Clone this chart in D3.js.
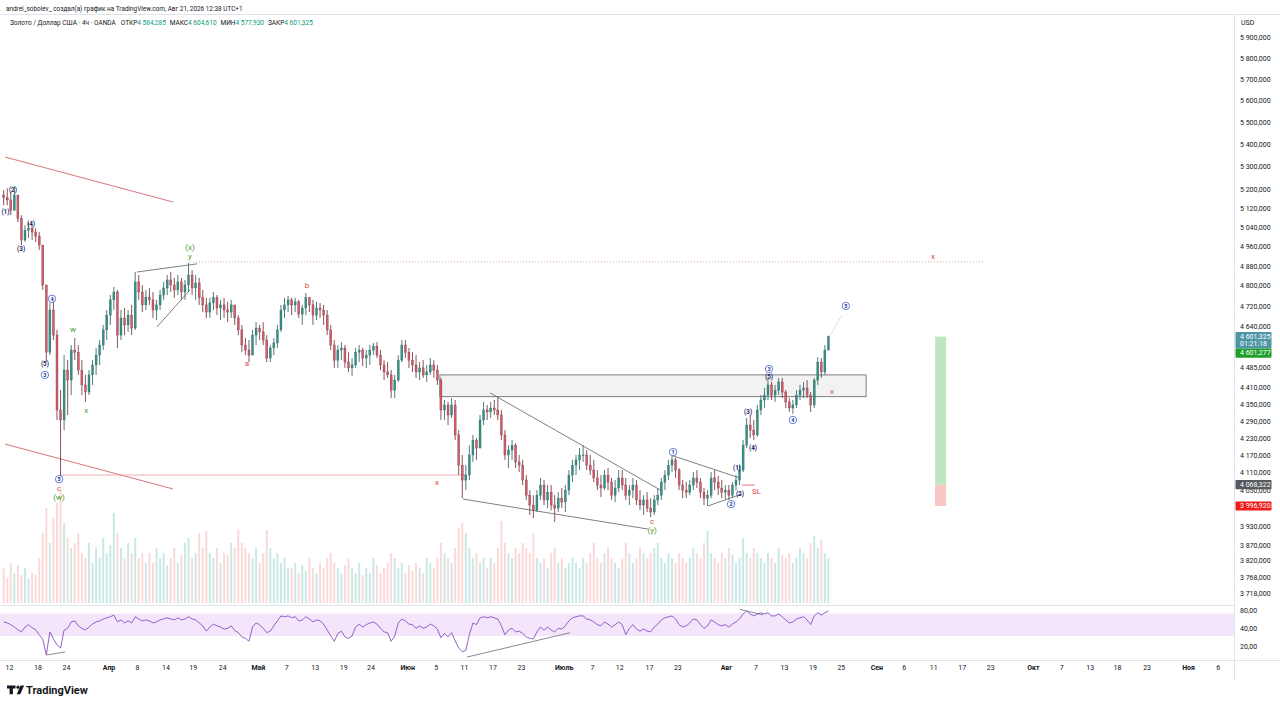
<!DOCTYPE html>
<html><head><meta charset="utf-8">
<script src="https://cdn.jsdelivr.net/npm/d3@7"></script>
<style>body{margin:0;background:#fff}svg{display:block;font-family:Roboto,"Noto Sans",sans-serif}</style>
</head><body><svg id="c" width="1280" height="706"></svg>
<script>
// ---------------- DATA ----------------
const firstOpen = 5176;
const closes = [
5164,5155,5110,5176,5077,4986,5027,5035,5019,5002,
4965,4803,4542,4704,4607,4329,4293,4475,4438,4550,
4542,4475,4420,4394,4457,4494,4531,4569,4627,4684,
4744,4775,4607,4673,4646,4684,4634,4815,4775,4724,
4755,4744,4704,4724,4763,4791,4823,4803,4783,4815,
4775,4803,4843,4791,4811,4752,4724,4696,4732,4752,
4712,4724,4704,4696,4724,4673,4627,4569,4550,4531,
4607,4634,4619,4588,4520,4558,4577,4627,4704,4724,
4744,4724,4736,4688,4712,4752,4724,4684,4712,4704,
4684,4627,4569,4512,4550,4558,4505,4483,4494,4542,
4550,4520,4531,4550,4565,4531,4494,4468,4457,4401,
4438,4512,4569,4542,4512,4494,4468,4483,4457,4468,
4494,4475,4438,4329,4347,4311,4347,4240,4135,4084,
4101,4170,4222,4194,4293,4329,4322,4336,4329,4311,
4240,4170,4187,4204,4146,4135,4084,4033,4000,3983,
4033,4067,4017,4043,4000,3990,4023,4010,4050,4101,
4135,4153,4170,4170,4135,4118,4091,4067,4057,4101,
4077,4033,4057,4091,4067,4033,4050,4067,4017,4000,
4017,3990,3977,4017,4033,4077,4101,4135,4153,4118,
4067,4050,4043,4067,4091,4077,4043,4023,4033,4091,
4077,4057,4043,4050,4033,4067,4084,4118,4204,4275,
4257,4240,4329,4365,4383,4420,4383,4401,4431,4394,
4358,4336,4347,4383,4401,4409,4383,4347,4438,4505,
4468,4550,4601];
const highs = [
5197,5205,5189,5214,5176,5090,5048,5060,5044,5035,
5019,4965,4803,4732,4744,4627,4401,4531,4512,4569,
4596,4569,4512,4457,4475,4512,4558,4588,4646,4704,
4763,4795,4783,4704,4712,4704,4724,4855,4843,4803,
4783,4791,4775,4744,4783,4815,4843,4855,4831,4843,
4831,4823,4892,4863,4843,4831,4783,4752,4752,4775,
4763,4744,4752,4736,4744,4724,4684,4646,4596,4588,
4627,4657,4646,4657,4607,4569,4596,4646,4724,4752,
4759,4752,4752,4744,4724,4771,4755,4744,4736,4732,
4724,4704,4646,4588,4569,4580,4569,4542,4520,4558,
4569,4558,4550,4569,4577,4580,4550,4512,4505,4475,
4457,4531,4588,4588,4558,4542,4531,4505,4512,4494,
4520,4512,4494,4446,4365,4358,4372,4365,4257,4170,
4135,4204,4240,4229,4311,4358,4347,4358,4365,4376,
4329,4257,4204,4222,4211,4170,4153,4101,4050,4033,
4050,4091,4084,4067,4067,4033,4043,4057,4067,4118,
4153,4170,4194,4204,4187,4170,4153,4118,4101,4118,
4125,4091,4084,4118,4118,4091,4067,4091,4084,4050,
4033,4043,4023,4033,4057,4091,4118,4153,4167,4160,
4125,4084,4077,4084,4111,4118,4091,4057,4050,4111,
4118,4098,4084,4067,4067,4077,4101,4135,4222,4300,
4311,4293,4347,4383,4409,4446,4431,4420,4446,4446,
4401,4372,4365,4401,4420,4431,4438,4394,4446,4523,
4520,4569,4605];
const lows = [
5132,5132,5090,5110,5060,4965,4978,4994,4986,4978,
4945,4783,4505,4531,4588,4293,4098,4257,4311,4383,
4512,4457,4383,4358,4383,4420,4457,4494,4550,4588,
4646,4704,4558,4588,4607,4619,4607,4627,4744,4696,
4704,4724,4673,4665,4704,4744,4763,4775,4752,4763,
4744,4744,4775,4763,4744,4724,4696,4673,4673,4704,
4684,4665,4673,4657,4673,4646,4607,4542,4531,4505,
4531,4569,4588,4569,4505,4505,4531,4558,4619,4673,
4696,4684,4696,4673,4646,4684,4696,4646,4665,4673,
4646,4607,4550,4483,4483,4512,4483,4468,4453,4483,
4505,4490,4483,4494,4531,4520,4475,4438,4446,4372,
4372,4431,4505,4520,4483,4468,4446,4438,4446,4431,
4457,4446,4420,4293,4293,4275,4300,4222,4101,4023,
4050,4084,4146,4153,4222,4275,4293,4300,4311,4293,
4222,4153,4125,4153,4125,4111,4067,4017,3967,3957,
3977,4017,4000,3990,3983,3944,3977,3990,3977,4033,
4077,4101,4118,4146,4118,4101,4077,4050,4027,4050,
4050,4017,4010,4043,4050,4017,4000,4023,4000,3983,
3967,3977,3960,3967,4000,4017,4050,4084,4111,4091,
4050,4023,4023,4033,4050,4057,4023,4000,3997,4023,
4050,4033,4023,4017,4017,4023,4050,4067,4111,4194,
4229,4222,4233,4311,4336,4365,4365,4358,4383,4372,
4336,4322,4315,4336,4365,4372,4372,4322,4336,4420,
4446,4457,4577];
const volumes = [
35,25,40,30,38,28,35,25,30,28,45,
70,95,60,85,100,113,80,65,
55,60,70,50,45,60,40,55,45,65,50,58,
90,70,55,45,60,50,65,45,50,40,
50,40,55,45,50,38,45,55,40,48,60,65,45,50,70,55,72,
50,45,55,40,50,48,60,55,73,60,55,50,45,55,40,50,73,55,45,50,40,45,35,
35,40,30,38,32,45,35,30,40,35,45,50,40,35,30,38,45,35,30,40,28,35,30,45,38,30,35,40,50,45,
35,40,30,38,32,40,35,30,45,40,35,45,60,50,45,40,55,75,80,70,
55,45,50,40,45,35,45,40,55,82,60,50,45,55,50,60,55,50,70,45,
40,45,35,50,55,40,45,35,40,45,40,35,45,40,50,60,45,40,50,55,45,40,35,45,60,50,40,45,55,50,
45,50,55,60,45,40,50,45,40,50,45,40,45,55,50,45,60,72,50,45,40,50,45,55,48,40,45,65,50,45,
55,50,45,40,50,45,40,55,48,45,50,40,45,55,50,45,60,67,55,63,50,45];
const rsiValues = [
51,49,46,42,38,35,42,46,41,38,
31.5,26.7,14.6,35,27,21.5,19,37.5,40,51,
53,44,40,37.5,42,47,51,53,57,59.5,
62,66,51,55,49,53,49,62,57,53,
55,53,49,51,55,57,59.5,57,55,59.5,
55,57,62,57,55,49,44,36,42,47,
44,42,39,40,44,37,34,29,27.5,24.5,
42,49,46,40,34,36,44,53,64,62,
64,59.5,62,53,55,62,57,51,55,53,
47,37.5,30,24.5,33,36,29,27.5,30,42,
47,42,46,49,51,47,40,35,34,24.5,
30,49,57,53,47,46,40,44,40,42,
47,44,39,28,33,29,34,25,19,16.5,
17.4,31.5,49,46,59.5,62,59.5,62,59.5,57,
44,31.5,37.5,40,35,36,33,29,27.5,26.7,
35,42,37.5,42,37.5,35,40,39,44,53,
59.5,62,64,64,57,55,51,46,44,51,
47,42,46,51,46,31.5,40,46,39,36,
39,36,35,42,47,55,59.5,62,64,57,
46,42,44,49,57,55,46,40,44,55,
51,46,44,46,42,47,51,57,69,77,
69,64,69,72,69,72,64,64,69,62,
55,49,51,57,59.5,62,55,46,64,72,
66,72,77];
const priceTicks = [5900,5800,5700,5600,5500,5400,5300,5200,5120,5040,4960,4880,4800,4720,4640,4485,4410,4350,4290,4230,4170,4110,4050,3930,3870,3820,3768,3718];
const rsiTicks = [80,40,20];
const rsiBand = [70,30];
const dateTicks = [
["2026-03-12","12"],["2026-03-18","18"],["2026-03-24","24"],
["2026-04-01","Апр"],["2026-04-08","8"],["2026-04-14","14"],["2026-04-19","19"],["2026-04-24","24"],
["2026-05-01","Май"],["2026-05-07","7"],["2026-05-13","13"],["2026-05-19","19"],["2026-05-24","24"],
["2026-06-01","Июн"],["2026-06-05","5"],["2026-06-11","11"],["2026-06-17","17"],["2026-06-23","23"],
["2026-07-01","Июль"],["2026-07-07","7"],["2026-07-12","12"],["2026-07-17","17"],["2026-07-23","23"],
["2026-08-02","Авг"],["2026-08-07","7"],["2026-08-13","13"],["2026-08-19","19"],["2026-08-25","25"],
["2026-09-01","Сен"],["2026-09-06","6"],["2026-09-11","11"],["2026-09-17","17"],["2026-09-23","23"],
["2026-10-01","Окт"],["2026-10-07","7"],["2026-10-13","13"],["2026-10-18","18"],["2026-10-23","23"],
["2026-11-01","Ноя"],["2026-11-06","6"]];
const holidays = ["2026-04-03"];
const headerText = "andrei_sobolev_ создал(а) график на TradingView.com, Авг 21, 2026 12:38 UTC+1";
const symbolText = "Золото / Доллар США · 4ч · OANDA";
const ohlcLabels = ["ОТКР","МАКС","МИН","ЗАКР"];
const ohlcValues = [4584.285,4604.610,4577.930,4601.325];
const lastPrice = 4601.325, countdown = "01:21:18";
const targetPrice = 4601.277, entryPrice = 4068.322, stopPrice = 3996.920;
// drawings: [barIndex, price]
const redChannel = [[[0.37,5342],[47.6,5146]],[[0.37,4208],[47.6,4054]]];
const redLevel = [[15.85,4101],[130.1,4101]];
const dottedLevel = [[52.4,4896],[275.5,4896]];
const grayLines = [[[37.5,4855],[54.4,4888]],[[43.1,4638],[52.4,4783]],[[136.8,4391],[185.2,4047]],[[129.2,4020],[181.2,3921]],[[188.3,4167],[207.1,4091]],[[198.1,3997],[207.7,4037]]];
const slLine = [[207.7,4067],[211.3,4067]];
const projLine = [[232.2,4599],[235.8,4684]];
const zone = {i0:122.7,i1:242.6,p0:4457,p1:4377};
const position = {i0:262,i1:265.1};
const rsiLines = [[[12.1,14.6],[17.3,16.4]],[[130.3,13.5],[159.3,33.9]],[[207.1,82],[213.6,66.5]]];
const waveLabels = [
[2.6,5202,"(2)","navy"],[0.5,5108,"(1)","navy"],[7.7,5056,"(4)","navy"],[4.9,4953,"(3)","navy"],
[13.6,4748,"4","circ"],[11.6,4501,"(5)","navy"],[11.6,4457,"3","circ"],[15.6,4087,"5","circ"],
[15.6,4057,"c","red"],[15.6,4027,"(w)","green"],[19.5,4627,"w","green"],[23.2,4329,"x","green"],
[52.4,4957,"(x)","green"],[52.4,4920,"y","green"],[68.4,4498,"a","red"],[85.3,4803,"b","red"],
[121.9,4077,"x","red"],[182.4,3947,"c","red"],[182.4,3918,"(y)","green"],
[188.3,4180,"1","circ"],[204.6,4003,"2","circ"],[206.3,4128,"(1)","navy"],[207.1,4040,"(2)","navy"],
[211.8,4047,"SL","red"],[209.4,4325,"(3)","navy"],[210.8,4197,"(4)","navy"],[215.3,4479,"3","circ"],
[215.3,4453,"(5)","navy"],[222,4293,"4","circ"],[233,4398,"x","red"],[236.9,4720,"5","circ"],[261.4,4920,"x","red"]];

// ---------------- SCALES ----------------
const svg = d3.select("#c");
const parseD = d3.timeParse("%Y-%m-%d"), fmtD = d3.timeFormat("%Y-%m-%d");
const origin = parseD("2026-03-12");
const hol = new Set(holidays);
function tradingIndex(s){
  const d = parseD(s); let n = 0;
  d3.timeDay.range(origin, d).forEach(t => { const w = t.getDay(); if (w > 0 && w < 6 && !hol.has(fmtD(t))) n++; });
  return d.getDay() === 0 ? n - 1/6 : n;
}
const x = d3.scaleLinear().domain([0,170]).range([9,1217.7]);
const bx = i => x(-0.75 + 0.5*i);
const y = d3.scaleLog().domain([3718,5900]).range([593,37.5]);
const yv = d3.scaleLinear().domain([0,113]).range([603,490]);
const yr = d3.scaleLog().domain([20,80]).range([646.7,610]);
const loc = d3.formatLocale({decimal:",", thousands:" ", grouping:[3], currency:["",""]});
const f3 = loc.format(",.3f"), f2 = loc.format(",.2f");
const AX = 1234;

const defs = svg.append("defs");
defs.append("clipPath").attr("id","cm").append("rect").attr("x",0).attr("y",15).attr("width",AX).attr("height",590);
defs.append("clipPath").attr("id","cr").append("rect").attr("x",0).attr("y",606).attr("width",AX).attr("height",54);

// frame lines
svg.append("line").attr("x1",0).attr("x2",1280).attr("y1",14.5).attr("y2",14.5).attr("stroke","#e0e3eb");
svg.append("line").attr("x1",0).attr("x2",AX).attr("y1",605.5).attr("y2",605.5).attr("stroke","#e0e3eb");
svg.append("line").attr("x1",0).attr("x2",1280).attr("y1",660.5).attr("y2",660.5).attr("stroke","#e0e3eb");
svg.append("line").attr("x1",AX+0.5).attr("x2",AX+0.5).attr("y1",14.5).attr("y2",680).attr("stroke","#e0e3eb");

// header
svg.append("text").attr("x",6).attr("y",10.5).attr("font-size",6.4).attr("fill","#131722").text(headerText);
const lg = svg.append("text").attr("x",10).attr("y",24.5).attr("font-size",6.5).attr("fill","#131722");
lg.append("tspan").text(symbolText);
ohlcLabels.forEach((l,k)=>{
  lg.append("tspan").attr("dx",k===0?5:4).text(l);
  lg.append("tspan").attr("fill","#089981").text(f3(ohlcValues[k]));
});

const main = svg.append("g").attr("clip-path","url(#cm)");
const opens = closes.map((c,i)=> i===0 ? firstOpen : closes[i-1]);
const bars = closes.map((c,i)=>({i, o:opens[i], c, h:Math.max(highs[i],opens[i],c), l:Math.min(lows[i],opens[i],c), v:volumes[i]||0, up:c>=opens[i]}));

// volume
main.append("g").selectAll("rect").data(bars).join("rect")
  .attr("x",d=>bx(d.i)-1).attr("width",2)
  .attr("y",d=>yv(d.v)).attr("height",d=>yv(0)-yv(d.v))
  .attr("fill",d=>d.up?"rgba(38,166,154,0.25)":"rgba(239,83,80,0.22)");

// zone rectangle
main.append("rect").attr("x",bx(zone.i0)).attr("width",bx(zone.i1)-bx(zone.i0))
  .attr("y",y(zone.p0)).attr("height",y(zone.p1)-y(zone.p0))
  .attr("fill","rgba(150,150,150,0.12)").attr("stroke","#5d606b").attr("stroke-width",0.8);

// position tool
main.append("rect").attr("x",bx(position.i0)).attr("width",bx(position.i1)-bx(position.i0))
  .attr("y",y(targetPrice)).attr("height",y(entryPrice)-y(targetPrice)).attr("fill","#bfe7bf");
main.append("rect").attr("x",bx(position.i0)).attr("width",bx(position.i1)-bx(position.i0))
  .attr("y",y(entryPrice)).attr("height",y(stopPrice)-y(entryPrice)).attr("fill","#f9c6c6");

const ln = d3.line().x(d=>bx(d[0])).y(d=>y(d[1]));
redChannel.forEach(s=>main.append("path").attr("d",ln(s)).attr("stroke","#d9777c").attr("stroke-width",1).attr("fill","none"));
main.append("path").attr("d",ln(redLevel)).attr("stroke","#e49a9a").attr("stroke-width",0.8).attr("fill","none");
main.append("path").attr("d",ln(dottedLevel)).attr("stroke","#c98a8a").attr("stroke-width",0.8).attr("stroke-dasharray","1,2").attr("fill","none");

// candles
const cg = main.append("g");
cg.selectAll("line").data(bars).join("line")
  .attr("x1",d=>bx(d.i)).attr("x2",d=>bx(d.i)).attr("y1",d=>y(d.h)).attr("y2",d=>y(d.l))
  .attr("stroke",d=>d.up?"#3d6f6a":"#7d3f48").attr("stroke-width",0.9);
cg.selectAll("rect").data(bars).join("rect")
  .attr("x",d=>bx(d.i)-1).attr("width",2)
  .attr("y",d=>y(Math.max(d.o,d.c))).attr("height",d=>Math.max(0.8,y(Math.min(d.o,d.c))-y(Math.max(d.o,d.c))))
  .attr("fill",d=>d.up?"#2f9487":"#d65b6c").attr("stroke",d=>d.up?"#3a5f5b":"#6e3a42").attr("stroke-width",0.35);

grayLines.forEach(s=>main.append("path").attr("d",ln(s)).attr("stroke","#5d606b").attr("stroke-width",0.8).attr("fill","none"));
main.append("path").attr("d",ln(slLine)).attr("stroke","#e05555").attr("stroke-width",0.8).attr("fill","none");
main.append("path").attr("d",ln(projLine)).attr("stroke","#b8bfe0").attr("stroke-width",0.8).attr("stroke-dasharray","1.5,1").attr("fill","none");

// wave labels
const colors = {navy:"#1b2a6b", red:"#dd4b4b", green:"#4f9a2c"};
waveLabels.forEach(([i,p,t,k])=>{
  const cx = bx(i), cy = y(p);
  if (k==="circ"){
    main.append("circle").attr("cx",cx).attr("cy",cy).attr("r",3.7).attr("fill","rgba(255,255,255,0.7)").attr("stroke","#3a5fcd").attr("stroke-width",0.8);
    main.append("text").attr("x",cx).attr("y",cy+1.9).attr("text-anchor","middle").attr("font-size",5.4).attr("font-weight","bold").attr("fill","#1b2f8f").text(t);
  } else {
    main.append("text").attr("x",cx).attr("y",cy+2.6).attr("text-anchor","middle")
      .attr("font-size",k==="navy"?6.3:8).attr("font-weight",k==="navy"?"bold":"normal").attr("fill",colors[k]).text(t);
  }
});

// RSI pane
const rp = svg.append("g").attr("clip-path","url(#cr)");
rp.append("rect").attr("x",0).attr("width",AX).attr("y",yr(rsiBand[0])).attr("height",yr(rsiBand[1])-yr(rsiBand[0])).attr("fill","#f3e6fb");
rp.append("path").datum(rsiValues).attr("d",d3.line().x((d,i)=>bx(i)).y(d=>yr(d))).attr("fill","none").attr("stroke","#8a4fc4").attr("stroke-width",0.9);
const lr = d3.line().x(d=>bx(d[0])).y(d=>yr(d[1]));
rsiLines.forEach(s=>rp.append("path").attr("d",lr(s)).attr("stroke","#6b6e78").attr("stroke-width",0.8).attr("fill","none"));

// axes
function styleAxis(g){ g.select(".domain").remove(); g.selectAll("text").attr("fill","#131722").attr("font-size",7).attr("font-family","Roboto, 'Noto Sans', sans-serif"); }
svg.append("g").attr("transform",`translate(${AX},0)`)
  .call(d3.axisRight(y).tickValues(priceTicks).tickSize(0).tickPadding(6).tickFormat(f3)).call(styleAxis);
svg.append("g").attr("transform",`translate(${AX},0)`)
  .call(d3.axisRight(yr).tickValues(rsiTicks).tickSize(0).tickPadding(6).tickFormat(f2)).call(styleAxis);
const xa = svg.append("g").attr("transform","translate(0,663)")
  .call(d3.axisBottom(x).tickValues(dateTicks.map(d=>tradingIndex(d[0]))).tickSize(0).tickPadding(2).tickFormat((d,k)=>dateTicks[k][1]))
  .call(styleAxis);
xa.selectAll("text").attr("font-weight",(d,k)=>isNaN(+dateTicks[k][1])?"bold":"normal");

svg.append("text").attr("x",AX+7).attr("y",25).attr("font-size",7).attr("fill","#131722").text("USD");

// price labels on axis
function box(cy,h,fill,lines){
  svg.append("rect").attr("x",AX+1.5).attr("y",cy-4.6).attr("width",36).attr("height",h).attr("fill",fill).attr("rx",0.8);
  lines.forEach((t,k)=>svg.append("text").attr("x",AX+6).attr("y",cy+2.4+k*7.4).attr("font-size",7).attr("fill","#fff").text(t));
}
box(y(lastPrice),16.5,"#4f96a5",[f3(lastPrice),countdown]);
box(y(lastPrice)+16.5,9.2,"#1e9e2a",[f3(targetPrice)]);
box(y(entryPrice),9.2,"#555a60",[f3(entryPrice)]);
box(y(stopPrice),9.2,"#f01c1c",[f3(stopPrice)]);

// logo
const lgG = svg.append("g").attr("fill","#131722");
lgG.append("path").attr("d","M7 685.5h8.5v3h-2.6v5.8h-3.3v-5.8H7z");
lgG.append("circle").attr("cx",18).attr("cy",687.2).attr("r",1.6);
lgG.append("path").attr("d","M20.5 685.5h3.6l-3.8 8.8h-3.6z");
svg.append("text").attr("x",26).attr("y",694).attr("font-size",11).attr("font-weight","bold").attr("fill","#131722").text("TradingView");
</script></body></html>
